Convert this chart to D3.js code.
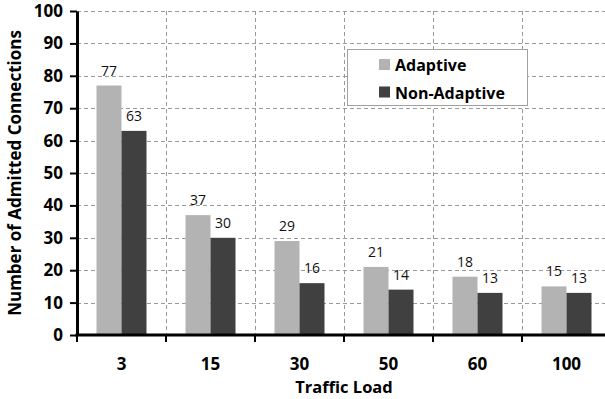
<!DOCTYPE html>
<html>
<head>
<meta charset="utf-8">
<script src="https://cdn.jsdelivr.net/npm/d3@7"></script>
<style>
  html, body { margin: 0; padding: 0; background: #fff; overflow: hidden; }
  svg { display: block; font-family: "Open Sans", Lato, sans-serif; }
</style>
</head>
<body>
<svg id="chart" width="605" height="399"></svg>
<script>
// Admitted connections per traffic load, adaptive vs. non-adaptive scheme
const categories = ["3", "15", "30", "50", "60", "100"];
const seriesNames = ["Adaptive", "Non-Adaptive"];
const adaptive = [77, 37, 29, 21, 18, 15];
const nonAdaptive = [63, 30, 16, 14, 13, 13];
const yTicks = [0, 10, 20, 30, 40, 50, 60, 70, 80, 90, 100];
const colors = ["#b3b3b3", "#404040"];

const rows = categories.map((c, i) => ({ cat: c, values: [adaptive[i], nonAdaptive[i]] }));

const svg = d3.select("#chart");
const plot = { left: 77, right: 611, top: 11, bottom: 335 };
const boldFont = "'Open Sans', sans-serif";

const x0 = d3.scaleBand().domain(categories).range([plot.left, plot.right]).padding(0);
const x1 = d3.scaleBand().domain(seriesNames).range([0, x0.bandwidth()])
  .paddingInner(0).paddingOuter(0.78);
const y = d3.scaleLinear().domain([0, 100]).range([plot.bottom, plot.top]);

// dashed grid
const grid = svg.append("g").attr("stroke", "#9a9a9a").attr("stroke-width", 1)
  .attr("stroke-dasharray", "4,3").attr("fill", "none");
grid.selectAll("line.h").data(yTicks.filter(v => v > 0)).join("line")
  .attr("x1", plot.left).attr("x2", plot.right)
  .attr("y1", d => Math.round(y(d)) + 0.5).attr("y2", d => Math.round(y(d)) + 0.5);
grid.selectAll("line.v").data(categories.slice(1)).join("line")
  .attr("x1", d => Math.round(x0(d)) + 0.5).attr("x2", d => Math.round(x0(d)) + 0.5)
  .attr("y1", plot.top).attr("y2", plot.bottom);

// bars
const groups = svg.append("g").selectAll("g").data(rows).join("g")
  .attr("transform", d => `translate(${x0(d.cat)},0)`);
groups.selectAll("rect").data(d => d.values.map((v, i) => ({ key: seriesNames[i], v, i })))
  .join("rect")
  .attr("x", d => x1(d.key))
  .attr("width", x1.bandwidth())
  .attr("y", d => y(d.v))
  .attr("height", d => y(0) - y(d.v))
  .attr("fill", d => colors[d.i]);

// value labels
groups.selectAll("text").data(d => d.values.map((v, i) => ({ key: seriesNames[i], v })))
  .join("text")
  .attr("x", d => x1(d.key) + x1.bandwidth() / 2)
  .attr("y", d => y(d.v) - 10)
  .attr("text-anchor", "middle")
  .attr("font-size", 14)
  .attr("fill", "#111")
  .text(d => d.v);

// y axis
const yAxis = svg.append("g").attr("transform", `translate(${plot.left},0)`)
  .call(d3.axisLeft(y).tickValues(yTicks).tickSize(7).tickSizeOuter(0).tickPadding(7));
yAxis.select(".domain").attr("stroke", "#000").attr("stroke-width", 3);
yAxis.selectAll(".tick line").attr("stroke", "#000").attr("stroke-width", 2);
yAxis.selectAll(".tick text").attr("font-size", 17).attr("font-weight", "bold")
  .attr("font-family", boldFont).attr("fill", "#000");

// x axis: labels centred in bands, ticks on band boundaries
const xAxis = svg.append("g").attr("transform", `translate(0,${plot.bottom})`)
  .call(d3.axisBottom(x0).tickSize(0).tickPadding(23));
xAxis.select(".domain").remove();
xAxis.selectAll(".tick text").attr("font-size", 17).attr("font-weight", "bold")
  .attr("font-family", boldFont).attr("fill", "#000");
svg.append("line").attr("x1", plot.left - 1.5).attr("x2", plot.right)
  .attr("y1", plot.bottom).attr("y2", plot.bottom).attr("stroke", "#000").attr("stroke-width", 3);
svg.append("g").selectAll("line").data(categories).join("line")
  .attr("x1", d => x0(d)).attr("x2", d => x0(d))
  .attr("y1", plot.bottom).attr("y2", plot.bottom + 7)
  .attr("stroke", "#000").attr("stroke-width", 2);

// axis titles
svg.append("text").attr("x", (plot.left + plot.right) / 2).attr("y", 393)
  .attr("text-anchor", "middle").attr("font-size", 16.5).attr("font-weight", "bold")
  .text("Traffic Load");
svg.append("text").attr("transform", `translate(21,${(plot.top + plot.bottom) / 2}) rotate(-90)`)
  .attr("text-anchor", "middle").attr("font-size", 17).attr("font-weight", "bold")
  .text("Number of Admitted Connections");

// legend
const legend = svg.append("g");
legend.append("rect").attr("x", 347.5).attr("y", 49.5).attr("width", 180).attr("height", 56)
  .attr("fill", "#fff").attr("stroke", "#a0a0a0").attr("stroke-width", 1);
seriesNames.forEach((name, i) => {
  legend.append("rect").attr("x", 379).attr("y", 59 + i * 27.5).attr("width", 11).attr("height", 11)
    .attr("fill", colors[i]);
  legend.append("text").attr("x", 395).attr("y", 71 + i * 27.5)
    .attr("font-size", 16).attr("font-weight", "bold").text(name);
});
</script>
</body>
</html>
